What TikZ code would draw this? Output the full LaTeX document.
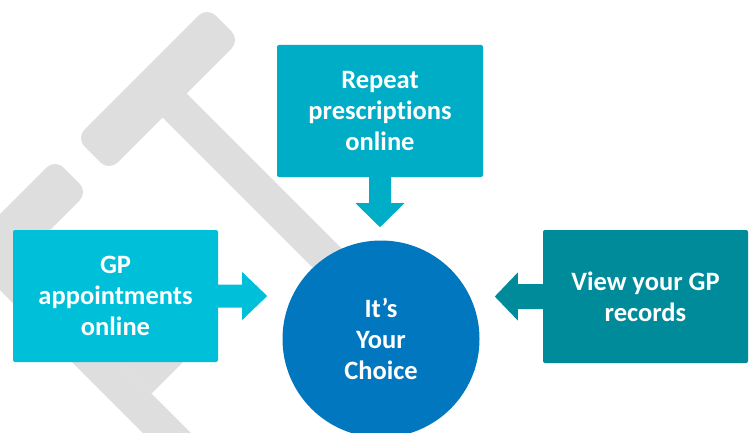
\documentclass[tikz,border=0pt]{standalone}
\usepackage{fontspec}
\setmainfont{Carlito}[RawFeature={-liga;-clig;-dlig}]
\definecolor{wm}{RGB}{222,222,222}
\definecolor{cApp}{RGB}{0,192,217}
\definecolor{cRep}{RGB}{0,173,198}
\definecolor{cRec}{RGB}{0,139,155}
\definecolor{cChoice}{RGB}{0,119,190}
\tikzset{
  box/.style={rectangle, rounded corners=2pt, minimum width=205pt, minimum height=132pt,
    inner sep=0pt, align=center, text=white, font=\fontsize{26.5}{31}\selectfont\bfseries},
  hub/.style={circle, minimum size=197pt, inner sep=0pt, align=center, text=white,
    fill=cChoice, font=\fontsize{26.5}{31}\selectfont\bfseries},
  watermark/.style={fill=wm},
}
\begin{document}
\begin{tikzpicture}[x=1pt,y=1pt]
\clip (0,0) rectangle (751,432);
\fill[white] (0,0) rectangle (751,432);
% watermark, drawn in pixel coordinates (y down)
\begin{scope}[shift={(0,432)}, yscale=-1]
  \fill[watermark, rounded corners=12pt] (76,138) -- (207,7) -- (240,40) -- (109,171) -- cycle;
  \fill[watermark] (152.5,107.5) -- (176.5,83.5) -- (396.5,303.5) -- (372.5,327.5) -- cycle;
  \fill[watermark, rounded corners=12pt] (55,159) -- (88,192) -- (-75,355) -- (-108,322) -- cycle;
  \fill[watermark] (-15,275) -- (9,251) -- (329,571) -- (305,595) -- cycle;
  \fill[watermark] (118.5,360.5) -- (151.5,393.5) -- (187.5,357.5) -- (154.5,324.5) -- cycle;
\end{scope}
% nodes
\node[box, fill=cApp] (app) at (115.5,136) {GP\\appointments\\online};
\node[box, fill=cRep, minimum width=206pt] (rep) at (380,321) {Repeat\\prescript\kern0pt ions\\online};
\node[box, fill=cRec, minimum height=133pt] (rec) at (645.5,135.5) {View your GP\\records};
\node[hub] (choice) at (381,93) {It’s\\Your\\Choice};
% block arrows from boxes toward the hub
\fill[cApp, shift={(app.east)}] (0,11.5) -- (24,11.5) -- (24,24) -- (49,0) -- (24,-24) -- (24,-11.5) -- (0,-11.5) -- cycle;
\fill[cRep, shift={(rep.south)}, rotate=-90] (0,11) -- (26,11) -- (26,24.5) -- (50,0) -- (26,-24.5) -- (26,-11) -- (0,-11) -- cycle;
\fill[cRec, shift={(rec.west)}, rotate=180] (0,12.5) -- (25,12.5) -- (25,24) -- (48,0) -- (25,-24) -- (25,-12.5) -- (0,-12.5) -- cycle;
\end{tikzpicture}
\end{document}
